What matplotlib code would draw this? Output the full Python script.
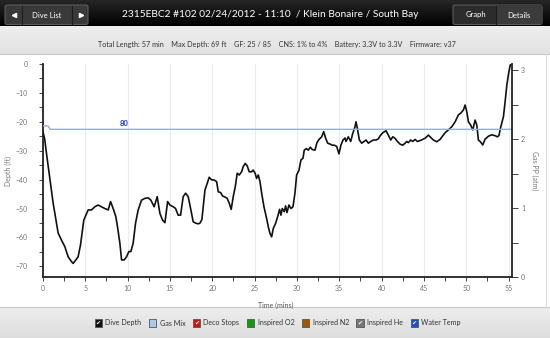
import numpy as np
import matplotlib
matplotlib.use("Agg")
import matplotlib.pyplot as plt
from matplotlib.patches import Rectangle, FancyBboxPatch
from matplotlib.colors import LinearSegmentedColormap
from matplotlib.ticker import MultipleLocator

plt.rcParams['font.family'] = ['Lato', 'DejaVu Sans']

# dive profile: elapsed minutes vs depth (ft, negative = below surface)
time_min = [
    0.0, 0.2, 0.41, 0.72, 1.19, 1.79, 2.18, 2.58, 2.97, 3.37, 3.56, 3.88, 4.15, 4.43, 4.82,
    5.33, 5.73, 6.12, 6.51, 6.91, 7.3, 7.7, 7.98, 8.29, 8.6, 8.8, 9.08, 9.28, 9.59, 9.87,
    10.14, 10.38, 10.65, 10.93, 11.24, 11.64, 12.03, 12.42, 12.74, 13.13, 13.49, 13.81,
    14.12, 14.4, 14.72, 14.99, 15.38, 15.66, 15.97, 16.25, 16.56, 16.84, 17.15, 17.47,
    17.74, 18.06, 18.33, 18.53, 18.77, 18.93, 19.13, 19.4, 19.63, 19.92, 20.19, 20.51,
    20.7, 20.98, 21.22, 21.49, 21.76, 22.0, 22.23, 22.47, 22.71, 22.94, 23.18, 23.46,
    23.65, 23.89, 24.13, 24.36, 24.64, 24.83, 25.07, 25.23, 25.43, 25.63, 25.83, 26.1,
    26.42, 26.61, 26.81, 27.01, 27.2, 27.48, 27.72, 27.95, 28.11, 28.26, 28.5, 28.66,
    28.82, 29.05, 29.29, 29.53, 29.76, 29.96, 30.24, 30.47, 30.71, 30.86, 31.1, 31.34,
    31.57, 31.81, 32.13, 32.36, 32.6, 32.92, 33.16, 33.39, 33.63, 33.9, 34.17, 34.41,
    34.69, 34.96, 35.2, 35.44, 35.67, 35.79, 36.06, 36.35, 36.58, 36.86, 36.97, 37.13,
    37.37, 37.65, 37.92, 38.16, 38.43, 38.71, 39.02, 39.34, 39.61, 39.81, 40.13, 40.52,
    40.79, 41.08, 41.31, 41.58, 41.86, 42.17, 42.49, 42.77, 42.97, 43.16, 43.44, 43.68,
    43.95, 44.22, 44.54, 45.13, 45.52, 46.11, 46.51, 46.9, 47.49, 47.89, 48.29, 48.68,
    49.07, 49.35, 49.66, 49.86, 50.06, 50.25, 50.53, 50.77, 51.04, 51.24, 51.43, 51.63,
    51.95, 52.22, 52.61, 53.01, 53.4, 53.67, 53.85, 54.08, 54.39, 54.59, 54.79, 55.03,
    55.18, 55.26,
]
depth_ft = [
    -23.5, -26.0, -30.9, -37.8, -48.0, -58.5, -60.9, -63.2, -66.7, -68.4, -69.0, -67.8, -66.7, -62.6, -54.0,
    -50.5, -50.5, -49.4, -48.8, -49.4, -50.0, -50.5, -47.6, -50.0, -52.8, -56.3, -62.0, -67.8, -67.8, -66.7,
    -64.9, -64.9, -62.0, -55.1, -50.5, -47.1, -46.5, -46.3, -47.1, -49.4, -45.9, -51.7,
    -54.0, -54.9, -47.6, -48.8, -49.4, -50.0, -52.3, -52.3, -45.9, -44.7, -45.9, -50.5,
    -54.6, -55.1, -55.3, -55.1, -53.8, -49.4, -43.6, -41.3, -39.2, -40.1, -40.1, -40.7,
    -44.2, -44.5, -45.7, -46.0, -46.5, -48.2, -50.3, -45.9, -42.5, -37.8, -38.4, -37.3,
    -35.5, -34.4, -35.3, -37.3, -37.3, -36.7, -37.9, -39.6, -38.4, -40.7, -44.7, -49.4,
    -53.5, -56.3, -58.6, -59.8, -56.9, -55.1, -52.8, -50.3, -52.3, -50.0, -51.1, -49.1,
    -51.4, -48.8, -50.0, -49.4, -44.7, -38.4, -36.7, -33.2, -32.6, -29.8, -29.3, -29.8,
    -28.8, -29.6, -29.8, -27.2, -26.1, -25.2, -23.4, -25.7, -27.4, -27.7, -28.1, -28.1,
    -28.5, -31.1, -28.0, -26.3, -25.6, -26.8, -25.2, -26.8, -24.1, -21.7, -20.0, -22.2,
    -26.3, -27.4, -26.8, -26.3, -27.4, -26.8, -26.3, -26.3, -25.9, -24.9, -23.8, -23.1,
    -24.6, -26.3, -25.2, -25.7, -26.8, -27.7, -28.1, -27.4, -26.8, -27.2, -26.3, -26.8,
    -26.1, -26.8, -26.5, -25.7, -24.6, -26.3, -26.9, -26.1, -23.8, -22.8, -21.7, -20.0,
    -17.6, -17.0, -15.9, -14.2, -16.5, -20.0, -21.2, -22.8, -19.4, -21.1, -26.3, -26.8,
    -28.0, -26.0, -25.0, -24.5, -24.8, -25.2, -24.8, -21.7, -18.2, -13.0, -7.3, -2.7,
    -0.6, 0.0,
]

# gas partial pressure trace (atm) and the mix label
gas_time = [0.0, 0.6, 0.85, 55.4]
gas_pp = [2.19, 2.19, 2.14, 2.14]
gas_label = "80"
gas_label_time = 9.6

title = "2315EBC2 #102 02/24/2012 - 11:10  / Klein Bonaire / South Bay"
summary = ("Total Length: 57 min    Max Depth: 69 ft    GF: 25 / 85    CNS: 1% to 4%    "
           "Battery: 3.3V to 3.3V    Firmware: v37")

legend_labels = ["Dive Depth", "Gas Mix", "Deco Stops", "Inspired O2", "Inspired N2",
                 "Inspired He", "Water Temp"]
legend_colors = ["#111111", "#a9c9ee", "#cc1414", "#109a10", "#9a5a00", "#777777", "#1c4fc0"]
legend_checked = [True, False, True, False, False, True, True]

W, H = 550, 338
fig = plt.figure(figsize=(W / 100, H / 100), dpi=100)
fig.patch.set_facecolor("white")

# page chrome drawn in pixel units
bg = fig.add_axes([0, 0, 1, 1])
bg.set_xlim(0, W)
bg.set_ylim(H, 0)
bg.axis("off")

grad = np.linspace(0, 1, 64).reshape(-1, 1)
bg.imshow(grad, extent=(0, W, 26, 0), aspect="auto",
          cmap=LinearSegmentedColormap.from_list("hdr", ["#262626", "#000000"]))
bg.imshow(grad, extent=(0, W, 54, 26), aspect="auto",
          cmap=LinearSegmentedColormap.from_list("info", ["#eeeeee", "#e2e2e2"]))
bg.imshow(grad, extent=(0, W, H, 307), aspect="auto",
          cmap=LinearSegmentedColormap.from_list("leg", ["#eeeeee", "#dddddd"]))
bg.plot([0, W], [54, 54], color="#c8c8c8", lw=0.8)
bg.plot([0, W], [307, 307], color="#c8c8c8", lw=0.8)
bg.plot([546, 546], [54, 307], color="#dddddd", lw=0.8)
bg.set_xlim(0, W)
bg.set_ylim(H, 0)

# header buttons
bg.add_patch(FancyBboxPatch((5, 5), 83, 19.5, boxstyle="round,pad=0,rounding_size=2",
                            fc="#393939", ec="#5a5a5a", lw=0.8))
for xd in (22, 72):
    bg.plot([xd, xd], [5.5, 24], color="#1c1c1c", lw=0.8)
bg.plot([13.5], [14.8], marker="<", ms=3, color="white", mec="white")
bg.plot([80.5], [14.8], marker=">", ms=3, color="white", mec="white")
bg.text(47, 15, "Dive List", color="white", fontsize=5.5, ha="center", va="center")

bg.add_patch(FancyBboxPatch((453, 5), 89, 19.5, boxstyle="round,pad=0,rounding_size=2",
                            fc="#2c2c2c", ec="#5a5a5a", lw=0.8))
bg.add_patch(Rectangle((496, 5.4), 45.6, 18.7, fc="#3b3b3b", ec="none"))
bg.plot([496, 496], [5.5, 24], color="#1c1c1c", lw=0.8)
bg.text(476, 15, "Graph", color="white", fontsize=5.5, ha="center", va="center")
bg.text(519, 15, "Details", color="white", fontsize=5.5, ha="center", va="center")

bg.text(270, 14.5, title, color="white", fontsize=7.3, ha="center", va="center")
bg.text(277, 44, summary, color="#333333", fontsize=5.2, ha="center", va="center")

# legend strip with check boxes, laid out from measured text widths
renderer = fig.canvas.get_renderer()
box, gap_in, gap_out, ly = 7.4, 3.3, 7.5, 323
texts = [bg.text(0, ly, lab, color="#333333", fontsize=5.1, ha="left", va="center")
         for lab in legend_labels]
widths = [t.get_window_extent(renderer).width for t in texts]
total = sum(box + gap_in + w for w in widths) + gap_out * (len(widths) - 1)
x = 277.7 - total / 2
for t, w, col, chk in zip(texts, widths, legend_colors, legend_checked):
    bg.add_patch(Rectangle((x, ly - box / 2), box, box, fc=col, ec="#555555", lw=0.6))
    if chk:
        bg.text(x + box / 2, ly + 0.3, "\u2714", color="white", fontsize=4.5,
                ha="center", va="center", family="DejaVu Sans")
    t.set_x(x + box + gap_in)
    x += box + gap_in + w + gap_out

# main plot area
ax = fig.add_axes([43 / W, (H - 277) / H, 469 / W, 213 / H])
ax.set_facecolor("none")
ax.plot(time_min, depth_ft, color="#111111", lw=1.2, zorder=3)
ax.set_xlim(0, 55.4)
ax.set_ylim(-73.7, 0)
ax.xaxis.set_major_locator(MultipleLocator(5))
ax.xaxis.set_minor_locator(MultipleLocator(2.5))
ax.yaxis.set_major_locator(MultipleLocator(10))
ax.yaxis.set_minor_locator(MultipleLocator(5))
ax.grid(axis="x", which="major", color="#ececec", lw=0.8)
ax.set_axisbelow(True)
for side in ("top", "right"):
    ax.spines[side].set_visible(False)
for side in ("left", "bottom"):
    ax.spines[side].set_color("#222222")
    ax.spines[side].set_linewidth(1.3)
ax.tick_params(axis="both", which="both", direction="out", length=3, width=0.7,
               color="#444444", labelcolor="#777777", labelsize=5)
ax.tick_params(axis="y", which="both", pad=8)
ax.tick_params(axis="x", which="both", pad=3)
ax.set_xlabel("Time (mins)", fontsize=5, color="#555555")
ax.set_ylabel("Depth (ft)", fontsize=5, color="#777777")
ax.xaxis.set_label_coords(0.497, -0.117)
ax.yaxis.set_label_coords(-0.066, 0.5)

ax2 = ax.twinx()
ax2.plot(gas_time, gas_pp, color="#86b4e8", lw=1.0, zorder=2)
ax2.text(gas_label_time, gas_pp[-1] + 0.04, gas_label, color="#1a3ccc", fontsize=5.5,
         fontweight="bold", ha="center", va="bottom")
ax2.set_ylim(0, 3.087)
ax2.yaxis.set_major_locator(MultipleLocator(1))
ax2.yaxis.set_minor_locator(MultipleLocator(0.5))
for side in ("top", "left", "bottom"):
    ax2.spines[side].set_visible(False)
ax2.spines["right"].set_color("#222222")
ax2.spines["right"].set_linewidth(1.3)
ax2.tick_params(axis="y", which="both", direction="out", length=4, width=0.7,
                color="#444444", labelcolor="#777777", labelsize=5, pad=2.5)
ax2.set_ylabel("Gas PP (atm)", fontsize=5, color="#777777", rotation=270)
ax2.yaxis.set_label_coords(1.055, 0.5)

fig.savefig("out.png", dpi=100)
